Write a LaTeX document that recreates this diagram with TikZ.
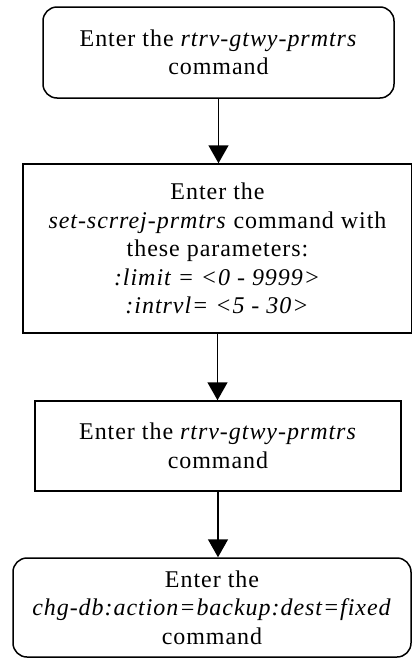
\documentclass[tikz,border=0pt]{standalone}
\usepackage{fontspec}
\setmainfont[LetterSpace=4]{Liberation Serif}
\usetikzlibrary{arrows.meta}
\begin{document}
\begin{tikzpicture}[x=1pt,y=1pt,
  every node/.style={font=\fontsize{24}{28.5}\selectfont, align=center, inner sep=0pt, line width=1.5pt},
  termbox/.style={draw, rounded corners=14pt},
  procbox/.style={draw},
  arr/.style={line width=1.5pt, -{Triangle[width=20pt,length=18pt]}}]
\useasboundingbox (0,0) rectangle (412,-659);
\node[termbox, minimum width=351pt, minimum height=91pt] (b1) at (218.5,-52.5)
  {Enter the \textit{rtrv-gtwy-prmtrs}\\command};
\node[procbox, minimum width=389pt, minimum height=169pt] (b2) at (217.5,-248.5)
  {Enter the\\\textit{set-scrrej-prmtrs} command with\\these parameters:\\\textit{:limit = <0 - 9999>}\\\textit{:intrvl= <5 - 30>}};
\node[procbox, minimum width=366pt, minimum height=90pt] (b3) at (218,-446)
  {Enter the \textit{rtrv-gtwy-prmtrs}\\command};
\node[termbox, minimum width=398pt, minimum height=99pt] (b4) at (212,-607.5)
  {Enter the\\\textit{chg-db:action=backup:dest=fixed}\\command};
\draw[arr] (b1.south) -- (b1.south |- b2.north);
\draw[arr] (b2.south) -- (b2.south |- b3.north);
\draw[arr] (b3.south) -- (b3.south |- b4.north);
\end{tikzpicture}
\end{document}
